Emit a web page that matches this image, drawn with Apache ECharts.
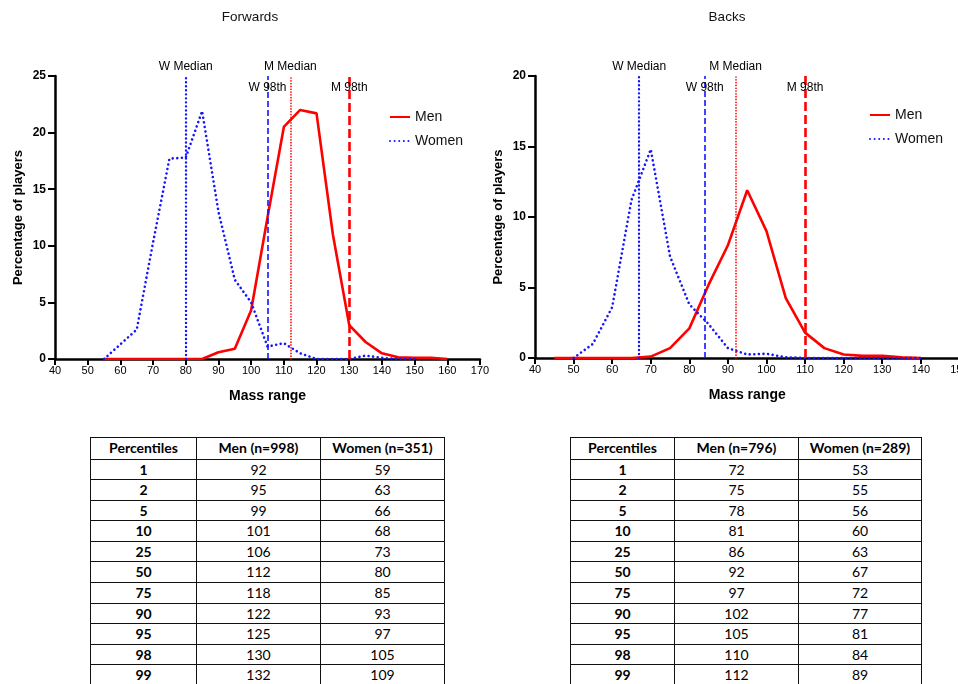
<!DOCTYPE html>
<html>
<head>
<meta charset="utf-8">
<script src="https://cdn.jsdelivr.net/npm/echarts@6/dist/echarts.min.js"></script>
<style>
  body { margin: 0; background: #fff; }
  #chart { position: absolute; left: 0; top: 0; width: 958px; height: 430px; }
  table.pct {
    position: absolute; top: 437px; border-collapse: collapse;
    font-family: Lato, "Liberation Sans", sans-serif; font-size: 14px; color: #000;
  }
  table.pct td, table.pct th {
    border: 1.5px solid #111; text-align: center; padding: 0; height: 19.6px; line-height: 19.6px;
  }
  table.pct th { height: 20.5px; font-weight: bold; }
  table.pct td:first-child { font-weight: bold; }
</style>
</head>
<body>
<div id="chart"></div>
<table class="pct" id="tFwd" style="left:90px"></table>
<table class="pct" id="tBack" style="left:570px"></table>
<script>
// ---- forwards distribution (% of players per 5 kg mass bin)
const fwdMass = [55, 60, 65, 70, 75, 80, 85, 90, 95, 100, 105, 110, 115, 120, 125, 130, 135, 140, 145, 150, 155, 160];
const fwdMen = [0, 0, 0, 0, 0, 0, 0, 0.6, 0.9, 4.3, 12.5, 20.5, 22.0, 21.7, 11.0, 3.0, 1.5, 0.5, 0.15, 0.1, 0.1, 0];
const fwdWomen = [0, 1.3, 2.6, 10.3, 17.7, 17.8, 21.9, 13.0, 7.0, 5.0, 1.1, 1.4, 0.5, 0, 0, 0, 0.3, 0.1, 0, 0, null, null];

// ---- backs distribution
const backMass = [45, 50, 55, 60, 65, 70, 75, 80, 85, 90, 95, 100, 105, 110, 115, 120, 125, 130, 135, 140];
const backMen = [0, 0, 0, 0, 0, 0.1, 0.7, 2.1, 5.2, 8.0, 11.9, 9.0, 4.25, 1.8, 0.7, 0.25, 0.15, 0.15, 0.05, 0];
const backWomen = [null, 0, 1.0, 3.6, 11.2, 14.8, 7.2, 3.8, 2.4, 0.7, 0.25, 0.3, 0.05, 0, 0, 0, 0, 0, 0, 0];

// ---- reference lines: W Median, W 98th, M Median, M 98th
const refNames = ['W Median', 'W 98th', 'M Median', 'M 98th'];
const fwdRefs = [80, 105, 112, 130];
const backRefs = [67, 84, 92, 110];

// ---- percentile tables
const percentiles = [1, 2, 5, 10, 25, 50, 75, 90, 95, 98, 99];
const fwdMenPct = [92, 95, 99, 101, 106, 112, 118, 122, 125, 130, 132];
const fwdWomenPct = [59, 63, 66, 68, 73, 80, 85, 93, 97, 105, 109];
const backMenPct = [72, 75, 78, 81, 86, 92, 97, 102, 105, 110, 112];
const backWomenPct = [53, 55, 56, 60, 63, 67, 72, 77, 81, 84, 89];
const fwdHeader = ['Percentiles', 'Men (n=998)', 'Women (n=351)'];
const backHeader = ['Percentiles', 'Men (n=796)', 'Women (n=289)'];

const RED = '#ff0000';
const BLUE = '#1414ff';
const FONT = '"Liberation Sans", Arial, sans-serif';

function pairs(xs, ys) {
  return xs.map((x, i) => [x, ys[i]]).filter(p => p[1] !== null);
}

const refStyles = [
  { color: BLUE, width: 2.4, type: [0.01, 4], cap: 'round' },
  { color: BLUE, width: 1.6, type: [6, 3] },
  { color: RED, width: 1.7, type: [0.01, 2.8], cap: 'round' },
  { color: RED, width: 2.6, type: [9, 4] }
];

function xAxisOf(idx, max) {
  return {
    gridIndex: idx, type: 'value', min: 40, max: max, interval: 10,
    name: 'Mass range', nameLocation: 'middle', nameGap: 30,
    nameTextStyle: { fontFamily: FONT, fontWeight: 'bold', fontSize: 14, color: '#000' },
    axisLine: { lineStyle: { color: '#000', width: 2.5 } },
    axisTick: { length: 6, lineStyle: { color: '#000', width: 2 } },
    axisLabel: { color: '#000', fontFamily: FONT, fontSize: 11, margin: 6 },
    splitLine: { show: false }
  };
}
function yAxisOf(idx, max) {
  return {
    gridIndex: idx, type: 'value', min: 0, max: max, interval: 5,
    name: 'Percentage of players', nameLocation: 'middle', nameGap: 30, nameRotate: 90,
    nameTextStyle: { fontFamily: FONT, fontWeight: 'bold', fontSize: 13, color: '#000' },
    axisLine: { lineStyle: { color: '#000', width: 2.5 } },
    axisTick: { length: 7, lineStyle: { color: '#000', width: 2 } },
    axisLabel: { color: '#000', fontFamily: FONT, fontSize: 12, fontWeight: 'bold', margin: 9 },
    splitLine: { show: false }
  };
}

function seriesOf(idx, mass, men, women, refs, top, labelY) {
  const lines = refs.map((v, i) => ({ xAxis: v, lineStyle: refStyles[i] }));
  // median labels sit above the plot, 98th labels sit across the line top
  const labels = refs.map((v, i) => ({
    value: [v, i % 2 === 0 ? top : labelY],
    label: { position: i % 2 === 0 ? 'top' : 'inside', distance: 3, formatter: refNames[i] }
  }));
  return [
    {
      name: 'Men', type: 'line', xAxisIndex: idx, yAxisIndex: idx,
      data: pairs(mass, men), symbol: 'none', z: 3,
      lineStyle: { color: RED, width: 2.6 }, itemStyle: { color: RED },
      markLine: { silent: true, symbol: ['none', 'none'], label: { show: false }, data: lines }
    },
    {
      name: 'Women', type: 'line', xAxisIndex: idx, yAxisIndex: idx,
      data: pairs(mass, women), symbol: 'none', z: 4,
      lineStyle: { color: BLUE, width: 2.6, type: [0.01, 4.6], cap: 'round' }, itemStyle: { color: BLUE }
    },
    {
      name: 'labels', type: 'scatter', xAxisIndex: idx, yAxisIndex: idx,
      symbolSize: 1, itemStyle: { color: 'rgba(0,0,0,0)' }, silent: true, z: 5,
      label: { show: true, color: '#000', opacity: 1, fontFamily: FONT, fontSize: 12 },
      data: labels
    }
  ];
}

const legendBase = {
  data: ['Men', 'Women'], orient: 'vertical', itemWidth: 20, itemHeight: 14, itemGap: 10,
  itemStyle: { opacity: 0 },
  textStyle: { fontFamily: FONT, fontSize: 14, color: '#111' }
};

const chart = echarts.init(document.getElementById('chart'));
chart.setOption({
  animation: false,
  graphic: [
    { type: 'text', x: 250, y: 17, style: { text: 'Forwards', fontFamily: FONT, fontSize: 13.5, fill: '#111', textAlign: 'center', textVerticalAlign: 'middle' } },
    { type: 'text', x: 727, y: 17, style: { text: 'Backs', fontFamily: FONT, fontSize: 13.5, fill: '#111', textAlign: 'center', textVerticalAlign: 'middle' } }
  ],
  legend: [
    Object.assign({}, legendBase, { left: 384, top: 105 }),
    Object.assign({}, legendBase, { left: 864, top: 103 })
  ],
  grid: [
    { left: 55, top: 76, width: 425, height: 283, outerBoundsMode: 'none' },
    { left: 535, top: 76, width: 424.4, height: 282, outerBoundsMode: 'none' }
  ],
  xAxis: [xAxisOf(0, 170), xAxisOf(1, 150)],
  yAxis: [yAxisOf(0, 25), yAxisOf(1, 20)],
  series: [].concat(
    seriesOf(0, fwdMass, fwdMen, fwdWomen, fwdRefs, 25, 24.0),
    seriesOf(1, backMass, backMen, backWomen, backRefs, 20, 19.2)
  )
});

function fillTable(id, header, a, b) {
  const widths = id === 'tFwd' ? [105, 123, 123] : [103, 123, 122];
  let html = '<tr>' + header.map((h, i) => `<th style="width:${widths[i]}px">${h}</th>`).join('') + '</tr>';
  percentiles.forEach((p, i) => {
    html += `<tr><td>${p}</td><td>${a[i]}</td><td>${b[i]}</td></tr>`;
  });
  document.getElementById(id).innerHTML = html;
}
fillTable('tFwd', fwdHeader, fwdMenPct, fwdWomenPct);
fillTable('tBack', backHeader, backMenPct, backWomenPct);
</script>
</body>
</html>
